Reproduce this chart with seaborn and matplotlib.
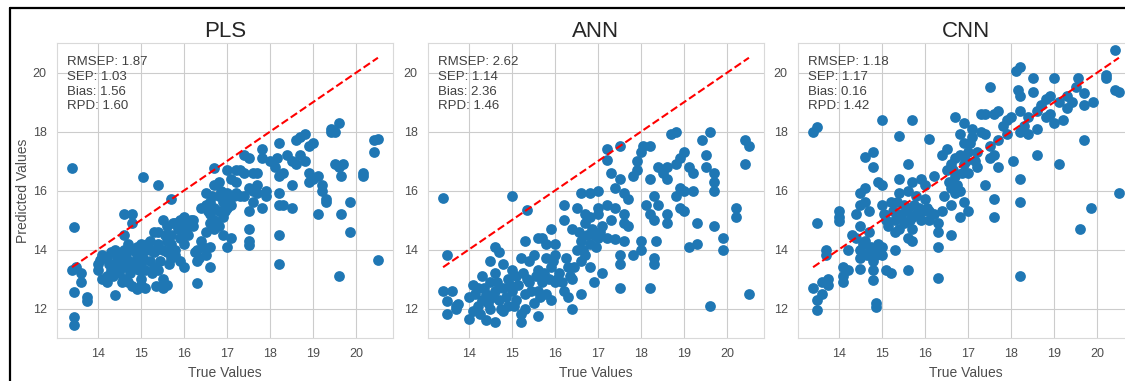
import numpy as np
import pandas as pd
import matplotlib
matplotlib.use("Agg")
import matplotlib.pyplot as plt
from matplotlib.lines import Line2D
import seaborn as sns

models = ["PLS", "ANN", "CNN"]
metric_labels = ["RMSEP", "SEP", "Bias", "RPD"]
metric_values = {
    "PLS": [1.87, 1.03, 1.56, 1.60],
    "ANN": [2.62, 1.14, 2.36, 1.46],
    "CNN": [1.18, 1.17, 0.16, 1.42],
}
x_ticks = [14, 15, 16, 17, 18, 19, 20]
y_ticks = [12, 14, 16, 18, 20]

pls_points = [
    (13.4, 16.75), (13.45, 14.75), (13.4, 13.3), (13.45, 12.55), (13.45, 11.7), (13.45, 11.45),
    (13.5, 13.4), (13.6, 13.2), (13.6, 12.9), (13.75, 12.4), (13.75, 12.25),
    (14.0, 13.5), (14.0, 13.3), (14.1, 13.8), (14.1, 13.0), (14.2, 13.7), (14.2, 13.1), (14.3, 13.9),
    (14.3, 13.3), (14.4, 14.0), (14.4, 13.5), (14.4, 12.45), (14.5, 13.8), (14.5, 13.2), (14.6, 14.5),
    (14.6, 15.2), (14.6, 14.0), (14.6, 13.0), (14.7, 13.6), (14.7, 12.9), (14.8, 15.2), (14.8, 14.9),
    (14.8, 14.0), (14.8, 13.4), (14.8, 12.75), (14.9, 12.65), (14.9, 13.8), (15.0, 14.2), (15.0, 13.5),
    (15.0, 13.0), (15.05, 16.45), (15.1, 12.7), (15.1, 14.0), (15.2, 14.3), (15.2, 13.6), (15.3, 14.6),
    (15.3, 13.9), (15.35, 12.75), (15.4, 16.2), (15.4, 14.2), (15.4, 13.3), (15.5, 15.0), (15.5, 14.0),
    (15.5, 13.0), (15.5, 12.7), (15.6, 14.8), (15.6, 14.3), (15.6, 12.8), (15.7, 15.7), (15.7, 14.5),
    (15.7, 13.7), (15.8, 14.9), (15.8, 14.0), (15.9, 15.0), (15.9, 13.6), (16.0, 15.1), (16.0, 14.8),
    (16.0, 14.2), (16.0, 13.4), (16.1, 14.9), (16.2, 15.0), (16.3, 14.0), (16.3, 13.6), (16.3, 12.85),
    (16.4, 14.3), (16.4, 15.4), (16.5, 15.9), (16.5, 15.5), (16.5, 13.8), (16.6, 15.2), (16.6, 14.9),
    (16.6, 14.1), (16.6, 13.4), (16.7, 16.75), (16.7, 16.2), (16.7, 15.0), (16.7, 14.7), (16.8, 16.3),
    (16.8, 15.8), (16.8, 15.3), (16.8, 14.8), (16.9, 15.6), (16.9, 14.5), (17.0, 15.4), (17.0, 14.1),
    (17.0, 15.9), (17.1, 16.4), (17.1, 15.5), (17.1, 14.4), (17.2, 16.7), (17.2, 15.9), (17.3, 16.7),
    (17.4, 17.2), (17.4, 16.6), (17.4, 15.8), (17.5, 17.1), (17.5, 16.1), (17.5, 15.3), (17.5, 14.7),
    (17.5, 14.3), (17.5, 14.15), (17.6, 16.6), (17.6, 16.0), (17.6, 15.6), (17.7, 16.2), (17.7, 16.6),
    (17.7, 15.9), (17.8, 17.4), (17.8, 17.1), (17.8, 15.4), (17.9, 16.0), (17.9, 15.8), (18.0, 17.0),
    (18.1, 16.8), (18.15, 17.1), (18.2, 17.6), (18.2, 16.5), (18.2, 15.9), (18.2, 15.5), (18.2, 14.5),
    (18.2, 13.5), (18.3, 16.6), (18.3, 15.5), (18.4, 17.2), (18.5, 17.0), (18.5, 16.2), (18.5, 15.4),
    (18.6, 17.7), (18.6, 16.9), (18.7, 17.8), (18.7, 17.2), (18.8, 17.9), (18.8, 17.0), (18.9, 17.5),
    (18.9, 16.6), (18.9, 16.3), (19.0, 17.6), (19.0, 16.4), (19.1, 16.5), (19.1, 15.2), (19.2, 16.2),
    (19.2, 16.0), (19.3, 15.7), (19.3, 15.6), (19.4, 18.1), (19.4, 18.0), (19.5, 18.0), (19.5, 16.9),
    (19.6, 18.3), (19.6, 16.8), (19.6, 13.1), (19.65, 16.5), (19.65, 15.2), (19.7, 16.9), (19.85, 15.6),
    (19.85, 14.6), (20.15, 16.6), (20.15, 16.5), (20.4, 17.7), (20.4, 17.3), (20.5, 17.75), (20.5, 13.65),
    (14.2, 12.9), (14.5, 13.5), (14.6, 13.4), (14.7, 14.2), (14.9, 14.1), (15.0, 12.8), (15.1, 13.3),
    (15.2, 14.0), (15.3, 13.4), (15.4, 14.6), (15.6, 13.9), (15.7, 14.2), (15.8, 13.8), (15.9, 14.4),
    (16.1, 14.5), (16.2, 14.8), (16.5, 14.6), (16.6, 15.6), (16.9, 15.1), (16.7, 15.4), (16.85, 16.0),
    (17.0, 16.7), (17.2, 16.3), (17.3, 15.8),
    (14.05, 13.65), (14.25, 13.5), (14.35, 13.1), (14.45, 13.7), (14.55, 12.9), (14.65, 13.75),
    (14.75, 13.2), (14.85, 13.6), (14.95, 13.3), (15.05, 13.7), (15.15, 14.2), (15.25, 13.2),
    (15.35, 14.0), (15.45, 13.6), (15.55, 14.5), (15.65, 13.5), (15.75, 14.9), (15.85, 14.7),
    (15.95, 14.9), (16.05, 14.6), (16.15, 15.0), (16.25, 13.9), (16.35, 13.7), (16.45, 14.1),
    (16.55, 15.3), (16.65, 15.8), (16.75, 14.9), (16.95, 15.3), (17.05, 15.6), (17.15, 15.8),
]

ann_points = [
    (13.4, 15.75), (13.5, 13.8), (13.4, 12.6), (13.5, 12.25), (13.5, 11.8), (13.6, 12.6), (13.7, 12.0),
    (13.75, 12.15), (13.7, 12.1),
    (14.0, 11.65), (14.0, 12.4), (14.1, 11.9), (14.1, 12.8), (14.2, 12.1), (14.2, 12.7), (14.3, 12.3),
    (14.3, 13.1), (14.4, 11.6), (14.4, 12.5), (14.5, 12.9), (14.5, 12.0), (14.5, 13.6), (14.6, 11.55),
    (14.6, 12.6), (14.6, 14.1), (14.6, 13.2), (14.7, 12.3), (14.7, 13.9), (14.8, 12.7), (14.8, 13.5),
    (14.8, 11.9), (14.9, 13.0), (14.9, 12.1), (15.0, 12.6), (15.0, 15.8), (15.0, 13.3), (15.1, 12.3),
    (15.1, 13.1), (15.2, 11.8), (15.2, 11.55), (15.2, 13.7), (15.3, 12.5), (15.3, 14.3), (15.3, 12.0),
    (15.35, 15.35), (15.4, 13.6), (15.4, 12.9), (15.5, 13.8), (15.5, 12.2), (15.6, 11.75), (15.6, 14.4),
    (15.6, 13.3), (15.6, 12.6), (15.7, 14.4), (15.7, 12.9), (15.8, 14.2), (15.8, 13.7), (15.8, 12.5),
    (15.9, 14.7), (15.9, 13.4), (15.9, 12.3), (16.0, 14.2), (16.0, 13.8), (16.0, 12.9), (16.1, 13.2),
    (16.2, 15.0), (16.2, 15.5), (16.2, 12.6), (16.3, 13.4), (16.3, 12.4), (16.4, 14.7), (16.4, 13.0),
    (16.4, 12.0), (16.5, 14.0), (16.5, 15.4), (16.6, 12.5), (16.6, 15.9), (16.6, 14.3), (16.6, 13.6),
    (16.7, 15.2), (16.7, 14.9), (16.7, 13.8), (16.8, 15.9), (16.8, 15.1), (16.8, 14.2), (16.8, 13.4),
    (16.9, 14.5), (16.9, 12.9), (17.0, 15.2), (17.0, 14.4), (17.0, 16.0), (17.0, 15.4), (17.1, 14.8),
    (17.1, 13.2), (17.2, 17.4), (17.2, 17.05), (17.2, 15.5), (17.2, 14.4), (17.3, 16.6), (17.3, 15.0),
    (17.4, 16.1), (17.4, 15.4), (17.4, 14.35), (17.5, 17.5), (17.5, 16.4), (17.5, 13.8), (17.5, 13.5),
    (17.5, 12.7), (17.6, 15.9), (17.6, 15.2), (17.6, 14.9), (17.6, 14.3), (17.7, 15.7), (17.7, 14.8),
    (17.8, 16.5), (17.8, 13.8), (17.9, 17.0), (17.9, 16.7), (18.0, 14.3), (18.0, 14.0), (18.0, 17.3),
    (18.05, 17.5), (18.1, 15.5), (18.2, 17.5), (18.2, 16.4), (18.2, 15.2), (18.2, 12.7), (18.3, 15.0),
    (18.3, 13.7), (18.3, 13.5), (18.3, 15.8), (18.4, 15.5), (18.35, 14.3), (18.4, 16.8), (18.5, 16.6),
    (18.6, 16.8), (18.6, 15.2), (18.6, 14.9), (18.6, 16.4), (18.7, 17.9), (18.8, 18.0), (18.8, 16.9),
    (18.8, 15.8), (18.9, 17.1), (18.9, 16.1), (18.9, 15.4), (19.0, 17.3), (19.0, 16.0), (19.0, 15.3),
    (19.1, 16.8), (19.1, 14.1), (19.2, 16.6), (19.2, 16.0), (19.3, 14.9), (19.3, 14.2), (19.4, 17.7),
    (19.5, 17.2), (19.5, 16.8), (19.6, 18.0), (19.6, 12.1), (19.7, 16.6), (19.7, 16.3), (19.7, 16.0),
    (19.7, 14.8), (19.9, 14.4), (19.9, 14.0), (20.2, 15.4), (20.2, 15.1), (20.4, 17.7), (20.4, 16.9),
    (20.5, 17.5), (20.5, 12.5),
    (14.15, 12.5), (14.25, 11.8), (14.35, 12.7), (14.45, 12.2), (14.55, 12.4), (14.65, 12.9),
    (14.75, 12.0), (14.85, 12.4), (14.95, 12.8), (15.05, 12.1), (15.15, 12.8), (15.25, 13.2),
    (15.35, 13.0), (15.45, 12.6), (15.55, 13.1), (15.65, 12.4), (15.75, 13.2), (15.85, 13.0),
    (15.95, 13.6), (16.05, 13.0), (16.15, 12.9), (16.25, 13.7), (16.35, 13.1), (16.45, 13.4),
    (16.55, 14.6), (16.65, 14.0), (16.75, 14.5), (16.85, 14.7), (16.95, 14.1), (17.05, 14.6),
]

cnn_points = [
    (13.4, 18.0), (13.5, 18.15), (13.5, 14.9), (13.4, 12.7), (13.5, 12.3), (13.5, 11.95), (13.6, 12.5),
    (13.6, 12.9), (13.7, 13.8), (13.7, 14.0), (13.75, 12.8), (13.75, 13.0),
    (14.0, 15.3), (14.0, 15.1), (14.0, 14.95), (14.1, 13.4), (14.1, 13.1), (14.1, 12.9), (14.2, 14.0),
    (14.2, 13.3), (14.3, 14.5), (14.4, 15.2), (14.4, 14.4), (14.5, 15.9), (14.5, 15.5), (14.5, 14.8),
    (14.5, 14.0), (14.5, 13.7), (14.5, 13.35), (14.6, 17.15), (14.6, 16.1), (14.6, 15.6), (14.6, 14.3),
    (14.7, 15.3), (14.7, 13.9), (14.7, 14.6), (14.8, 17.3), (14.8, 16.8), (14.8, 14.0), (14.8, 13.6),
    (14.8, 13.3), (14.8, 12.95), (14.85, 12.2), (14.85, 12.05), (14.9, 16.3), (14.9, 14.2), (15.0, 16.2),
    (15.0, 15.5), (15.0, 14.1), (15.0, 13.8), (15.0, 18.4), (15.1, 15.0), (15.1, 13.3), (15.2, 15.6),
    (15.2, 13.2), (15.3, 15.0), (15.3, 14.6), (15.3, 14.0), (15.4, 16.4), (15.4, 15.9), (15.4, 15.2),
    (15.4, 14.7), (15.4, 17.85), (15.5, 15.5), (15.5, 14.9), (15.6, 16.9), (15.6, 16.0), (15.6, 15.4),
    (15.6, 14.4), (15.6, 13.3), (15.7, 18.4), (15.7, 16.3), (15.7, 15.1), (15.7, 14.7), (15.7, 14.3),
    (15.8, 15.8), (15.8, 15.2), (15.9, 16.4), (15.9, 15.0), (16.0, 15.7), (16.0, 16.2), (16.1, 17.75),
    (16.1, 15.3), (16.1, 15.0), (16.2, 16.5), (16.2, 15.2), (16.3, 14.9), (16.3, 14.6), (16.3, 14.1),
    (16.3, 13.05), (16.4, 17.2), (16.4, 15.3), (16.5, 17.4), (16.5, 16.7), (16.6, 16.9), (16.6, 16.1),
    (16.6, 15.5), (16.6, 14.5), (16.7, 18.5), (16.7, 17.1), (16.7, 16.5), (16.7, 15.9), (16.8, 17.2),
    (16.8, 17.9), (16.8, 16.0), (16.8, 15.1), (16.9, 18.3), (16.9, 17.6), (16.9, 16.9), (16.9, 15.6),
    (17.0, 17.3), (17.0, 16.6), (17.0, 15.3), (17.1, 18.1), (17.1, 17.8), (17.2, 16.8), (17.2, 17.3),
    (17.3, 18.6), (17.3, 18.0), (17.4, 18.6), (17.4, 17.9), (17.4, 16.2), (17.5, 19.5), (17.5, 17.5),
    (17.5, 17.1), (17.6, 18.6), (17.6, 17.2), (17.6, 15.7), (17.6, 15.1), (17.7, 18.7), (17.7, 16.8),
    (17.7, 17.7), (17.8, 18.2), (17.9, 18.4), (17.9, 17.9), (18.0, 18.5), (18.05, 17.0), (18.1, 20.05),
    (18.2, 20.2), (18.15, 19.4), (18.2, 19.2), (18.2, 18.7), (18.2, 18.0), (18.2, 16.4), (18.2, 15.6),
    (18.2, 13.1), (18.3, 18.2), (18.4, 17.9), (18.4, 18.5), (18.5, 19.8), (18.5, 19.35), (18.6, 18.7),
    (18.6, 18.1), (18.6, 17.2), (18.7, 18.9), (18.8, 19.1), (18.8, 18.5), (18.9, 19.2), (18.9, 18.6),
    (19.0, 19.8), (19.0, 18.3), (19.1, 19.0), (19.1, 16.9), (19.2, 18.4), (19.3, 19.2), (19.3, 18.8),
    (19.4, 19.0), (19.5, 19.5), (19.55, 19.8), (19.6, 14.7), (19.7, 19.3), (19.7, 18.9), (19.7, 17.7),
    (19.9, 19.0), (19.85, 15.4), (20.2, 19.9), (20.2, 19.8), (20.4, 20.75), (20.4, 19.4), (20.5, 19.35),
    (20.5, 15.9),
    (14.55, 14.2), (14.65, 13.8), (14.75, 14.1), (14.85, 13.8), (14.95, 14.0), (15.05, 15.2),
    (15.15, 14.8), (15.25, 15.3), (15.35, 15.6), (15.45, 15.1), (15.55, 15.3), (15.65, 15.0),
    (15.75, 15.5), (15.85, 15.4), (15.95, 15.3), (16.05, 15.4), (16.45, 15.8), (16.55, 16.3),
    (16.65, 16.7), (16.75, 16.2), (16.85, 16.6), (16.95, 17.0), (17.05, 17.6), (17.15, 17.0),
]

points = {"PLS": pls_points, "ANN": ann_points, "CNN": cnn_points}

sns.set_style("whitegrid")
plt.rcParams["font.family"] = ["Liberation Sans", "DejaVu Sans"]

fig = plt.figure(figsize=(11.25, 3.81), dpi=100)
W, H = 1125.0, 381.0
lefts = [57, 428, 798]
axes = [fig.add_axes([l / W, (H - 338) / H, 336 / W, 295 / H]) for l in lefts]

for ax, name in zip(axes, models):
    arr = np.array(points[name])
    df = pd.DataFrame({"True Values": arr[:, 0], "Predicted Values": arr[:, 1]})
    sns.scatterplot(data=df, x="True Values", y="Predicted Values", ax=ax,
                    s=60, color="#1f77b4", linewidth=0, alpha=1.0, zorder=3)
    lo, hi = df["True Values"].min(), df["True Values"].max()
    ax.plot([lo, hi], [lo, hi], color="red", linestyle="--", linewidth=1.5, zorder=4)
    ax.set_xlim(13.05, 20.85)
    ax.set_ylim(11.0, 21.0)
    ax.set_xticks(x_ticks)
    ax.set_yticks(y_ticks)
    ax.tick_params(labelsize=9, colors=".3", pad=4)
    ax.set_title(name, fontsize=16, pad=4, color=".15")
    ax.set_xlabel("True Values", fontsize=10, color=".3")
    if name == "PLS":
        ax.set_ylabel("Predicted Values", fontsize=10, color=".3", labelpad=2)
    else:
        ax.set_ylabel("")
    txt = "\n".join(f"{lab}: {val:.2f}" for lab, val in zip(metric_labels, metric_values[name]))
    ax.text(0.03, 0.955, txt, transform=ax.transAxes, va="top", ha="left",
            fontsize=9.5, color=".25", linespacing=1.3, zorder=5)
    for sp in ax.spines.values():
        sp.set_color(".85")

# screenshot frame lines (top and left)
fig.add_artist(Line2D([9.5 / W, 1.0], [1 - 8 / H, 1 - 8 / H], color="black", linewidth=1.6,
                      transform=fig.transFigure))
fig.add_artist(Line2D([9.5 / W, 9.5 / W], [0.0, 1 - 8 / H], color="black", linewidth=1.6,
                      transform=fig.transFigure))

fig.savefig("out.png", dpi=100)
